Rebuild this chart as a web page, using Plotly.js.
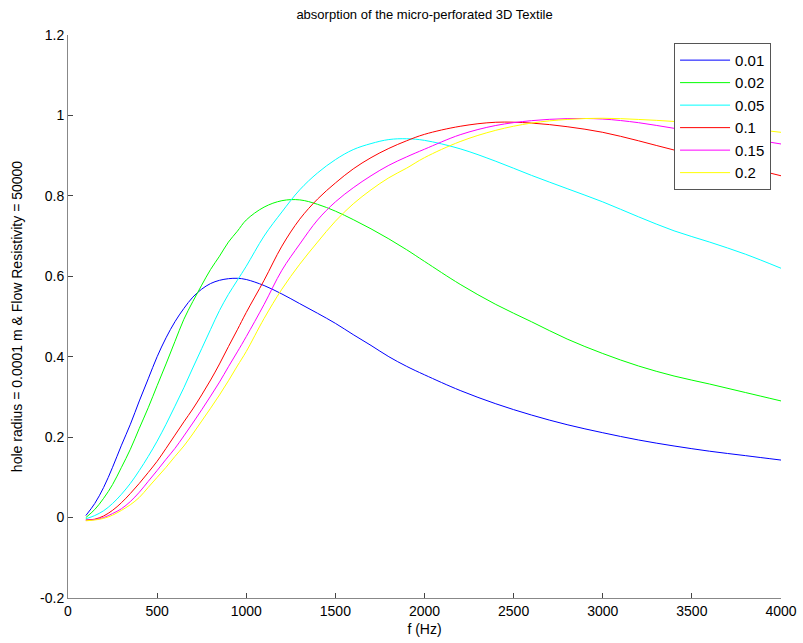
<!DOCTYPE html>
<html>
<head>
<meta charset="utf-8">
<script src="https://cdn.plot.ly/plotly-3.0.1.min.js"></script>
<style>html,body{margin:0;padding:0;background:#fff;}#chart{width:803px;height:643px;}</style>
</head>
<body>
<div id="chart"></div>
<script>
// Frequency grid (Hz)
var freq = [100,150,200,250,300,350,400,450,500,550,600,650,700,750,800,850,900,950,1000,
            1100,1200,1300,1400,1500,1600,1700,1800,1900,2000,
            2200,2400,2600,2800,3000,3200,3400,3600,3800,4000];

// Series labels
var seriesNames = ['0.01','0.02','0.05','0.1','0.15','0.2'];

// Absorption values per series
var s001 = [0.005,0.035,0.075,0.125,0.180,0.232,0.290,0.345,0.400,0.447,0.487,0.520,0.548,0.568,0.582,0.590,0.594,0.595,0.592,
            0.577,0.556,0.532,0.508,0.483,0.455,0.428,0.400,0.376,0.355,
            0.316,0.283,0.255,0.231,0.211,0.193,0.178,0.165,0.154,0.143];
var s002 = [0.000,0.020,0.048,0.082,0.125,0.170,0.222,0.273,0.328,0.382,0.438,0.493,0.537,0.578,0.617,0.650,0.685,0.712,0.740,
            0.772,0.788,0.790,0.779,0.762,0.741,0.718,0.693,0.666,0.637,
            0.580,0.530,0.487,0.444,0.408,0.377,0.352,0.332,0.311,0.290];
var s005 = [-0.003,0.005,0.017,0.035,0.058,0.085,0.117,0.152,0.190,0.232,0.277,0.323,0.372,0.420,0.468,0.515,0.555,0.590,0.625,
            0.700,0.760,0.815,0.857,0.890,0.915,0.930,0.940,0.942,0.938,
            0.917,0.886,0.851,0.818,0.785,0.748,0.713,0.685,0.655,0.620];
var s01  = [-0.006,-0.004,0.004,0.018,0.037,0.060,0.085,0.112,0.140,0.172,0.205,0.238,0.270,0.305,0.342,0.382,0.425,0.467,0.510,
            0.590,0.675,0.742,0.792,0.832,0.867,0.895,0.918,0.937,0.953,
            0.973,0.983,0.981,0.972,0.958,0.937,0.914,0.895,0.872,0.850];
var s015 = [-0.007,-0.005,0.000,0.010,0.022,0.040,0.063,0.090,0.117,0.145,0.172,0.203,0.235,0.268,0.302,0.337,0.375,0.412,0.450,
            0.530,0.615,0.680,0.740,0.785,0.820,0.850,0.876,0.897,0.916,
            0.952,0.975,0.987,0.992,0.991,0.982,0.968,0.955,0.943,0.929];
var s02  = [-0.008,-0.006,-0.002,0.006,0.018,0.032,0.050,0.075,0.100,0.125,0.152,0.178,0.208,0.240,0.272,0.305,0.340,0.377,0.413,
            0.495,0.568,0.630,0.685,0.737,0.780,0.815,0.845,0.869,0.895,
            0.935,0.963,0.981,0.990,0.993,0.990,0.985,0.977,0.968,0.958];

var allSeries = [s001,s002,s005,s01,s015,s02];
var colors = ['rgb(0,0,255)','rgb(0,255,0)','rgb(0,255,255)','rgb(255,0,0)','rgb(255,0,255)','rgb(255,255,0)'];

var yTickVals = [-0.2,0,0.2,0.4,0.6,0.8,1,1.2];
var yTickText = ['-0.2','0','0.2','0.4','0.6','0.8','1','1.2'];
var xTickVals = [0,500,1000,1500,2000,2500,3000,3500,4000];
var xTickText = ['0','500','1000','1500','2000','2500','3000','3500','4000'];

var traces = allSeries.map(function(s, i){
  return {x: freq, y: s, type: 'scatter', mode: 'lines', name: seriesNames[i],
    line: {color: colors[i], width: 1, shape: 'spline', smoothing: 1}};
});

var fontFam = '"Liberation Sans", Arial, sans-serif';
var layout = {
  width: 803, height: 643,
  margin: {l: 68, r: 22, t: 35, b: 45},
  paper_bgcolor: '#fff', plot_bgcolor: '#fff',
  font: {family: fontFam, size: 14, color: '#000'},
  title: {text: 'absorption of the micro-perforated 3D Textile', font: {family: fontFam, size: 13, color: '#000'}, x: 0.5287, xanchor: 'center', y: 0.978, yanchor: 'middle'},
  xaxis: {range: [0,4000], tickvals: xTickVals, ticktext: xTickText, ticks: 'inside', ticklen: 5, tickcolor: '#444', showline: true, linecolor: '#888', linewidth: 1, showgrid: false, zeroline: false,
    tickfont: {size: 14}, title: {text: 'f (Hz)', font: {size: 14}, standoff: 6}},
  yaxis: {range: [-0.2,1.2], tickvals: yTickVals, ticktext: yTickText, ticks: 'inside', ticklen: 5, tickcolor: '#444', showline: true, linecolor: '#888', linewidth: 1, showgrid: false, zeroline: false,
    tickfont: {size: 14}, title: {text: 'hole radius = 0.0001 m & Flow Resistivity = 50000', font: {size: 14}, standoff: 14}},
  showlegend: true,
  legend: {x: 0.85, y: 0.986, xanchor: 'left', yanchor: 'top', bgcolor: '#fff', bordercolor: '#555', borderwidth: 1, font: {size: 15, family: fontFam}, itemwidth: 50, tracegroupgap: 0}
};

Plotly.newPlot('chart', traces, layout, {displayModeBar: false, staticPlot: true});
</script>
</body>
</html>
